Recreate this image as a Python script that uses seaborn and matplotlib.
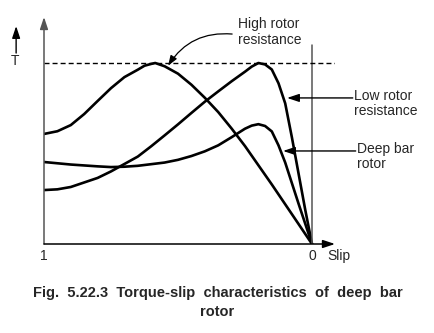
import matplotlib
matplotlib.use("Agg")
import matplotlib.pyplot as plt
import seaborn as sns
import pandas as pd

# Torque (per unit of maximum torque) against slip for three rotor types
high_r_slip = [1.00, 0.95, 0.90, 0.85, 0.80, 0.75, 0.70, 0.65, 0.625, 0.60, 0.585,
               0.55, 0.50, 0.45, 0.40, 0.35, 0.30, 0.25, 0.15, 0.05, 0.00]
high_r_torque = [0.608, 0.623, 0.657, 0.718, 0.790, 0.861, 0.922, 0.963, 0.985, 0.995, 1.000,
                 0.982, 0.941, 0.880, 0.808, 0.729, 0.638, 0.541, 0.329, 0.110, 0.000]

low_r_slip = [1.00, 0.95, 0.90, 0.85, 0.80, 0.75, 0.70, 0.65, 0.60, 0.55, 0.50, 0.45,
              0.40, 0.35, 0.30, 0.25, 0.225, 0.20, 0.175, 0.15, 0.125, 0.10, 0.075,
              0.05, 0.025, 0.00]
low_r_torque = [0.298, 0.302, 0.315, 0.340, 0.365, 0.401, 0.442, 0.483, 0.540, 0.600,
                0.661, 0.724, 0.786, 0.843, 0.899, 0.952, 0.980, 1.000, 0.992, 0.964,
                0.888, 0.777, 0.589, 0.388, 0.187, 0.000]

deep_bar_slip = [1.00, 0.95, 0.90, 0.85, 0.80, 0.75, 0.70, 0.65, 0.60, 0.55, 0.50, 0.45,
                 0.40, 0.35, 0.30, 0.25, 0.225, 0.20, 0.175, 0.15, 0.125, 0.10, 0.05, 0.00]
deep_bar_torque = [0.453, 0.446, 0.439, 0.434, 0.429, 0.425, 0.427, 0.432, 0.441, 0.450,
                   0.465, 0.486, 0.512, 0.545, 0.590, 0.637, 0.654, 0.662, 0.652, 0.622,
                   0.545, 0.450, 0.222, 0.000]

curve_names = ["High rotor resistance", "Low rotor resistance", "Deep bar rotor"]

frames = []
for name, s, t in zip(curve_names,
                      [high_r_slip, low_r_slip, deep_bar_slip],
                      [high_r_torque, low_r_torque, deep_bar_torque]):
    frames.append(pd.DataFrame({"slip": s, "torque": t, "rotor": name}))
data = pd.concat(frames, ignore_index=True)

sns.set_theme(style="white")
plt.rcParams["font.family"] = ["Liberation Sans", "DejaVu Sans"]

fig = plt.figure(figsize=(4.35, 3.33), dpi=100)
ax = fig.add_axes([44 / 435, 1 - 244 / 333, 291 / 435, 227 / 333])

sns.lineplot(data=data, x="slip", y="torque", units="rotor", estimator=None,
             sort=False, color="black", linewidth=1.9, ax=ax, legend=False)
for ln in ax.lines:
    ln.set_solid_joinstyle("round")

ax.set_xlim(1.0, -23 / 268)
ax.set_ylim(0.0, 227 / 181)
for sp in ax.spines.values():
    sp.set_visible(False)
ax.set_xticks([])
ax.set_yticks([])
ax.set_xlabel("")
ax.set_ylabel("")

x_end = -23 / 268
y_top = 227 / 181

# Axes drawn as arrows
ax.annotate("", xy=(1.0, y_top), xytext=(1.0, 0.0),
            arrowprops=dict(arrowstyle="-|>,head_length=0.6,head_width=0.2",
                            color="#555555", lw=1.1, shrinkA=0, shrinkB=0),
            annotation_clip=False)
ax.annotate("", xy=(x_end, 0.0), xytext=(1.0, 0.0),
            arrowprops=dict(arrowstyle="-|>,head_length=0.6,head_width=0.2",
                            color="black", lw=1.1, shrinkA=0, shrinkB=0),
            annotation_clip=False)

# Synchronous speed line and maximum torque level
ax.plot([0.0, 0.0], [0.0, 199 / 181], color="#555555", lw=1.1)
ax.plot([1.0, x_end], [1.0, 1.0], color="black", lw=1.0, linestyle=(0, (3.6, 2.2)))

fs = 10
ax.text(1.0, -0.066, "1", ha="center", va="center", fontsize=fs)
ax.text(0.0, -0.066, "0", ha="center", va="center", fontsize=fs)
ax.text(-0.101, -0.066, "Slip", ha="center", va="center", fontsize=fs)

# Torque label with its arrow
ax.text(1.108, 1.011, "T", ha="center", va="center", fontsize=fs)
ax.annotate("", xy=(1.104, 1.204), xytext=(1.104, 1.055),
            arrowprops=dict(arrowstyle="-|>,head_length=0.6,head_width=0.2",
                            color="black", lw=1.0, shrinkA=0, shrinkB=0),
            annotation_clip=False)

# Curve labels
ax.text(0.276, 1.171, "High rotor\nresistance", ha="left", va="center",
        fontsize=fs, linespacing=1.15)
ax.annotate("", xy=(0.537, 0.985), xytext=(0.298, 1.160),
            arrowprops=dict(arrowstyle="-|>,head_length=0.5,head_width=0.18",
                            color="black", lw=0.9, shrinkA=0, shrinkB=0,
                            connectionstyle="arc3,rad=0.3"),
            annotation_clip=False)

ax.text(-0.157, 0.776, "Low rotor\nresistance", ha="left", va="center",
        fontsize=fs, linespacing=1.15, clip_on=False)
ax.annotate("", xy=(0.093, 0.807), xytext=(-0.152, 0.807),
            arrowprops=dict(arrowstyle="-|>,head_length=0.6,head_width=0.2",
                            color="black", lw=1.0, shrinkA=0, shrinkB=0),
            annotation_clip=False)

ax.text(-0.168, 0.483, "Deep bar\nrotor", ha="left", va="center",
        fontsize=fs, linespacing=1.15, clip_on=False)
ax.annotate("", xy=(0.108, 0.514), xytext=(-0.163, 0.514),
            arrowprops=dict(arrowstyle="-|>,head_length=0.6,head_width=0.2",
                            color="black", lw=1.0, shrinkA=0, shrinkB=0),
            annotation_clip=False)

fig.text(0.5, 1 - 293 / 333,
         "Fig.  5.22.3  Torque-slip  characteristics  of  deep  bar",
         ha="center", va="center", fontsize=10.5, fontweight="bold")
fig.text(0.5, 1 - 312 / 333, "rotor", ha="center", va="center",
         fontsize=10.5, fontweight="bold")

fig.savefig("out.png", dpi=100, facecolor="white")
